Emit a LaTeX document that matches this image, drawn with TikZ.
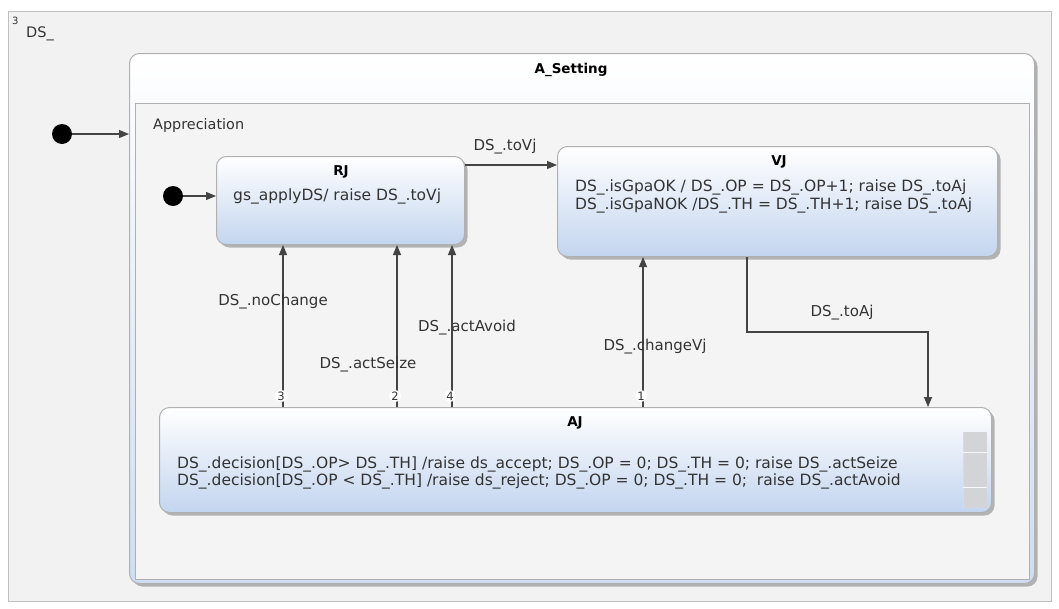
\documentclass[tikz,border=0pt]{standalone}
\usepackage{fontspec}
\setmainfont{DejaVu Sans}
\usetikzlibrary{arrows.meta,shadows,calc}
\definecolor{txt}{HTML}{333333}
\definecolor{edge}{HTML}{444444}
\definecolor{frame}{HTML}{B0B0B0}
\definecolor{canvas}{HTML}{F2F2F2}
\definecolor{stateblue}{HTML}{C3D5EF}
\definecolor{paleblue}{HTML}{CFDDF2}
\definecolor{region}{HTML}{F4F4F4}
\definecolor{scroll}{HTML}{D2D4D8}
\begin{document}
\begin{tikzpicture}[x=1pt,y=-1pt,
  font=\fontsize{15}{18}\selectfont, text=txt,
  statebox/.style={draw=frame, line width=1pt, rounded corners=10pt,
    top color=white, bottom color=stateblue,
    drop shadow={shadow xshift=3pt, shadow yshift=-3pt, opacity=0.45, fill=black!60},
    anchor=north west, inner sep=0pt},
  title/.style={font=\fontsize{13.5}{16}\selectfont\bfseries, text=black, inner sep=0pt},
  body/.style={anchor=west, align=left, inner sep=0pt, font=\fontsize{15.5}{17.5}\selectfont},
  lbl/.style={inner sep=1pt, font=\fontsize{15}{18}\selectfont},
  num/.style={circle, fill=white, inner sep=0.2pt, font=\fontsize{11.5}{11.5}\selectfont},
  trans/.style={draw=edge, line width=1.1pt, -{Triangle[length=10pt,width=8pt]}},
  init/.style={circle, fill=black, minimum size=20pt, inner sep=0pt},
]
% page and outer frame
\useasboundingbox[fill=white] (0,0) rectangle (1059,608);
\draw[draw=frame!80, fill=canvas] (8,11) rectangle (1051,601);
\node[anchor=base west, inner sep=0pt, font=\fontsize{10}{10}\selectfont] (sup) at (12,24) {3};
\node[anchor=base west, inner sep=0pt, font=\fontsize{14.5}{16}\selectfont] (dsname) at (26,37) {DS\_};

% composite state A_Setting with its region
\node[statebox, bottom color=paleblue, minimum width=905, minimum height=530] (ASet) at (129,53) {};
\node[title] (AStitle) at (571,70) {A\_Setting};
\node[draw=frame, fill=region, anchor=north west, inner sep=0pt,
      minimum width=894, minimum height=476] (App) at (135,103) {};
\node[anchor=base west, inner sep=0pt, font=\fontsize{14.4}{16}\selectfont] (Apptitle) at (153,129) {Appreciation};

% outer initial state
\node[init] (init0) at (62,134) {};
\draw[trans] (init0) -- (init0 -| ASet.west);

% simple states
\node[statebox, minimum width=248, minimum height=88] (RJ) at (216,156) {};
\node[title] (RJtitle) at (341,172) {RJ};
\node[body] (RJbody) at (233,196) {gs\_applyDS/ raise DS\_.toVj};

\node[statebox, minimum width=440, minimum height=110] (VJ) at (557,146) {};
\node[title] (VJtitle) at (779,162) {VJ};
\node[body, font=\fontsize{15.5}{18}\selectfont] (VJbody) at (575,196) {DS\_.isGpaOK / DS\_.OP = DS\_.OP+1; raise DS\_.toAj\\
DS\_.isGpaNOK /DS\_.TH = DS\_.TH+1; raise DS\_.toAj};

\node[statebox, minimum width=832, minimum height=105] (AJ) at (159,407) {};
\node[title] (AJtitle) at (575,423) {AJ};
\node[body] (AJbody) at (177,473) {DS\_.decision[DS\_.OP> DS\_.TH] /raise ds\_accept; DS\_.OP = 0; DS\_.TH = 0; raise DS\_.actSeize\\
DS\_.decision[DS\_.OP < DS\_.TH] /raise ds\_reject; DS\_.OP = 0; DS\_.TH = 0;\ \ raise DS\_.actAvoid};
% compartment scroll strip
\fill[scroll] (963,432) rectangle (987,508);
\draw[paleblue, line width=1pt] (963.5,432) -- (963.5,508);
\draw[white!85!scroll, line width=1pt] (963,452) -- (987,452) (963,487) -- (987,487);

% inner initial state
\node[init] (init1) at (173,196) {};
\draw[trans] (init1) -- (init1 -| RJ.west);

% transitions
\coordinate (tv) at (0,165);
\draw[trans] (RJ.east |- tv) -- (VJ.west |- tv);
\node[lbl] (Ltovj) at (505,147) {DS\_.toVj};

\coordinate (cNo) at (283,0);
\coordinate (cSe) at (397,0);
\coordinate (cAv) at (452,0);
\coordinate (cCh) at (643,0);
\draw[trans] (AJ.north -| cNo) -- (RJ.south -| cNo);
\draw[trans] (AJ.north -| cSe) -- (RJ.south -| cSe);
\draw[trans] (AJ.north -| cAv) -- (RJ.south -| cAv);
\draw[trans] (AJ.north -| cCh) -- (VJ.south -| cCh);
\node[num] (n3) at (281,396) {3};
\node[num] (n2) at (395,396) {2};
\node[num] (n4) at (450,396) {4};
\node[num] (n1) at (641,396) {1};
\node[lbl] (Lno) at (273,302) {DS\_.noChange};
\node[lbl] (Lse) at (368,365) {DS\_.actSeize};
\node[lbl] (Lav) at (467,328) {DS\_.actAvoid};
\node[lbl] (Lch) at (655,347) {DS\_.changeVj};

\coordinate (kneeA) at (747,332);
\coordinate (kneeB) at (928,332);
\draw[trans] (VJ.south -| kneeA) -- (kneeA) -- (kneeB) -- (AJ.north -| kneeB);
\node[lbl] (Ltoaj) at (842,313) {DS\_.toAj};
\end{tikzpicture}
\end{document}
